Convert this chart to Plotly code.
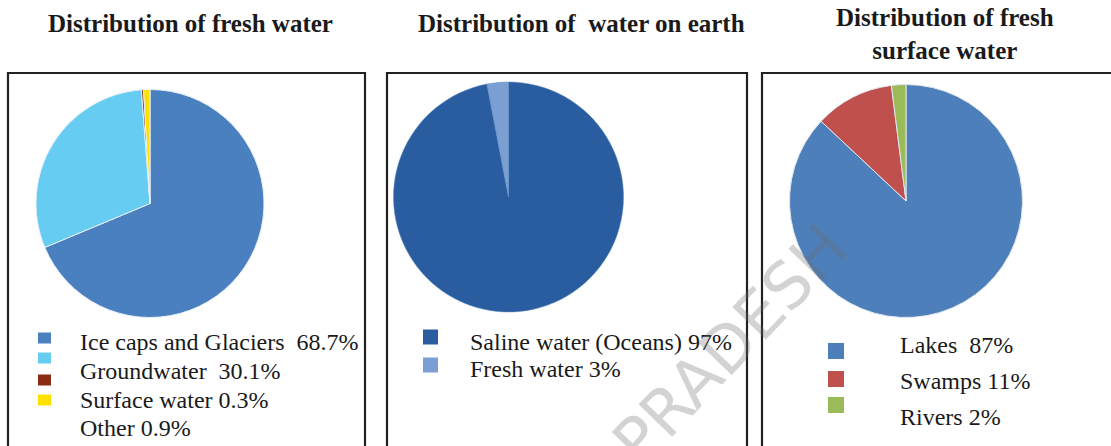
import plotly.graph_objects as go

W, H = 1111, 446

# ---- data ----
fresh_labels = ["Ice caps and Glaciers", "Groundwater", "Surface water", "Other"]
fresh_values = [68.7, 30.1, 0.3, 0.9]
fresh_legend = ["Ice caps and Glaciers  68.7%", "Groundwater  30.1%", "Surface water 0.3%", "Other 0.9%"]
fresh_colors = ["#4a80c0", "#66ccf2", "#8a2c12", "#ffe100"]

earth_labels = ["Saline water (Oceans)", "Fresh water"]
earth_values = [97, 3]
earth_legend = ["Saline water (Oceans) 97%", "Fresh water 3%"]
earth_colors = ["#2a5d9f", "#7b9fd2"]

surf_labels = ["Lakes", "Swamps", "Rivers"]
surf_values = [87, 11, 2]
surf_legend = ["Lakes  87%", "Swamps 11%", "Rivers 2%"]
surf_colors = ["#4d7fbb", "#c0504d", "#9bbb59"]

titles = ["Distribution of fresh water", "Distribution of  water on earth",
          "Distribution of fresh<br>surface water"]


def X(px):
    return px / W


def Y(py):
    return 1 - py / H


def dom(cx, cy, r):
    return dict(x=[X(cx - r), X(cx + r)], y=[Y(cy + r), Y(cy - r)])


fig = go.Figure()
common = dict(sort=False, direction="clockwise", rotation=0, textinfo="none",
              hoverinfo="label+percent", showlegend=False)
fig.add_trace(go.Pie(labels=fresh_labels, values=fresh_values,
                     marker=dict(colors=fresh_colors, line=dict(color="#e8f0fa", width=1)),
                     domain=dom(150, 203.5, 114), **common))
fig.add_trace(go.Pie(labels=earth_labels, values=earth_values,
                     marker=dict(colors=earth_colors, line=dict(color="#5a86c0", width=0.5)),
                     domain=dom(508.5, 197, 115), **common))
fig.add_trace(go.Pie(labels=surf_labels, values=surf_values,
                     marker=dict(colors=surf_colors, line=dict(color="#dfe6f0", width=1)),
                     domain=dom(906, 201, 116.5), **common))

shapes = []
annotations = []

# boxes
for x0, x1 in [(8, 365), (387, 747), (762, 1116)]:
    shapes.append(dict(type="rect", xref="paper", yref="paper",
                       x0=X(x0), x1=X(x1), y0=Y(470), y1=Y(73),
                       line=dict(color="#222222", width=2.2), fillcolor="rgba(0,0,0,0)"))

# titles
title_font = dict(family="Liberation Serif", size=25, color="#1a1a1a")
for t, cx, cy in zip(titles, [190, 581, 945], [23, 23, 34]):
    annotations.append(dict(text="<b>" + t + "</b>", x=X(cx), y=Y(cy), xref="paper", yref="paper",
                            showarrow=False, xanchor="center", yanchor="middle",
                            font=title_font))

leg_font = dict(family="Liberation Serif", size=24, color="#1a1a1a")


def legend(texts, colors, tx, ty, mx, my, mw, mh):
    for t, y in zip(texts, ty):
        annotations.append(dict(text=t, x=X(tx), y=Y(y), xref="paper", yref="paper",
                                showarrow=False, xanchor="left", yanchor="middle", font=leg_font))
    for c, y in zip(colors, my):
        shapes.append(dict(type="rect", xref="paper", yref="paper",
                           x0=X(mx), x1=X(mx + mw), y0=Y(y + mh / 2), y1=Y(y - mh / 2),
                           line=dict(width=0), fillcolor=c))


legend(fresh_legend, fresh_colors, 78, [342, 371, 400, 428], 38, [338, 358, 380, 400], 13, 11)
legend(earth_legend, earth_colors, 468, [342, 369], 423, [337, 365], 15, 15)
legend(surf_legend, surf_colors, 898, [345, 381, 417], 828, [351, 379, 405], 16, 16)

# watermark
annotations.append(dict(text="PRADESH", x=X(730), y=Y(345), xref="paper", yref="paper",
                        showarrow=False, textangle=-46, xanchor="center", yanchor="middle",
                        font=dict(family="DejaVu Sans", size=64, color="rgba(110,110,110,0.3)")))

fig.update_layout(width=W, height=H, margin=dict(l=0, r=0, t=0, b=0),
                  paper_bgcolor="white", plot_bgcolor="white",
                  shapes=shapes, annotations=annotations)

fig.write_html("out.html", config={"displayModeBar": False},
               post_script="document.body.style.margin='0';")
